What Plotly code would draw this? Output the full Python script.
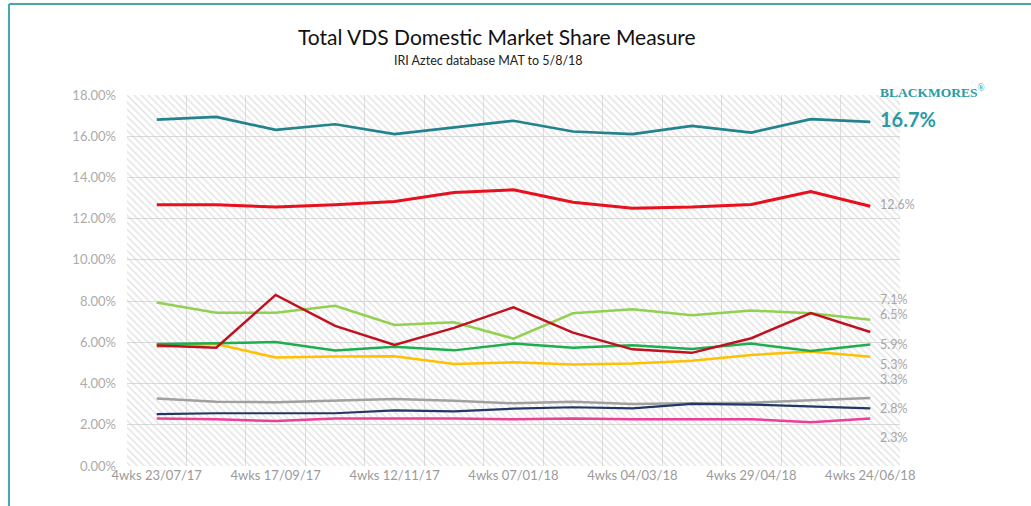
import plotly.graph_objects as go

# Four-weekly reporting periods (MAT to 5/8/18)
periods = [
    "4wks 23/07/17", "4wks 20/08/17", "4wks 17/09/17", "4wks 15/10/17",
    "4wks 12/11/17", "4wks 10/12/17", "4wks 07/01/18", "4wks 04/02/18",
    "4wks 04/03/18", "4wks 01/04/18", "4wks 29/04/18", "4wks 27/05/18",
    "4wks 24/06/18",
]

# Market share (%) by brand
blackmores = [16.81, 16.94, 16.31, 16.58, 16.10, 16.44, 16.75, 16.23, 16.10, 16.50, 16.18, 16.83, 16.7]
brand_red = [12.67, 12.67, 12.56, 12.67, 12.83, 13.27, 13.40, 12.80, 12.51, 12.56, 12.69, 13.32, 12.6]
brand_lightgreen = [7.93, 7.44, 7.44, 7.77, 6.84, 6.97, 6.18, 7.41, 7.60, 7.31, 7.54, 7.41, 7.1]
brand_darkred = [5.85, 5.74, 8.30, 6.80, 5.87, 6.70, 7.70, 6.47, 5.66, 5.49, 6.20, 7.42, 6.5]
brand_green = [5.92, 5.95, 6.02, 5.60, 5.79, 5.61, 5.94, 5.74, 5.86, 5.68, 5.94, 5.58, 5.9]
brand_yellow = [5.79, 5.92, 5.26, 5.31, 5.32, 4.95, 5.03, 4.92, 4.97, 5.11, 5.39, 5.55, 5.3]
brand_grey = [3.28, 3.12, 3.09, 3.17, 3.25, 3.16, 3.04, 3.12, 3.01, 3.04, 3.07, 3.19, 3.3]
brand_navy = [2.52, 2.56, 2.56, 2.56, 2.70, 2.65, 2.78, 2.85, 2.80, 3.01, 2.98, 2.88, 2.8]
brand_pink = [2.31, 2.27, 2.18, 2.30, 2.31, 2.31, 2.27, 2.31, 2.27, 2.27, 2.27, 2.12, 2.3]

y_ticks = [0, 2, 4, 6, 8, 10, 12, 14, 16, 18]

W, H = 1031, 506
ML, MR, MT, MB = 127, 131, 95, 40
PW, PH = W - ML - MR, H - MT - MB

def xp(px):
    return (px - ML) / PW

def yp(py):
    return (H - MB - py) / PH

x = list(range(len(periods)))
x_lo, x_hi = -0.5, len(periods) - 0.5

series = [
    ("Brand G", brand_grey, "#a0a0a0", 2.5, -18),
    ("Brand I", brand_pink, "#ec3f99", 2.5, 19),
    ("Brand H", brand_navy, "#1f3864", 2.2, 0),
    ("Brand F", brand_yellow, "#ffc000", 2.5, 8),
    ("Brand E", brand_green, "#1eae50", 2.5, 0),
    ("Brand C", brand_lightgreen, "#92d050", 2.5, -20),
    ("Brand D", brand_darkred, "#c0111f", 2.5, -18),
    ("Brand B", brand_red, "#e8101e", 3.0, -2),
]

fig = go.Figure()

# hatched plot background
fig.add_trace(go.Scatter(
    x=[x_lo, x_hi, x_hi, x_lo, x_lo], y=[0, 0, 18, 18, 0],
    mode="lines", line=dict(width=0), fill="toself",
    fillcolor="rgba(0,0,0,0)",
    fillpattern=dict(shape="\\", size=5, solidity=0.3,
                     fgcolor="#c9c9c9", bgcolor="rgba(0,0,0,0)"),
    hoverinfo="skip", showlegend=False,
))

annotations = []
for name, vals, color, width, shift in series:
    fig.add_trace(go.Scatter(x=x, y=vals, name=name, mode="lines",
                             line=dict(color=color, width=width), showlegend=False))
    annotations.append(dict(
        x=x[-1], y=vals[-1], xref="x", yref="y", text=f"{vals[-1]:.1f}%",
        showarrow=False, xanchor="left", yanchor="middle", xshift=8, yshift=-shift,
        font=dict(family="Lato", size=12.5, color="#a6a6a6"),
    ))

fig.add_trace(go.Scatter(x=x, y=blackmores, name="Blackmores", mode="lines",
                         line=dict(color="#23838d", width=2.7), showlegend=False))

annotations += [
    dict(x=x[-1], y=blackmores[-1], xref="x", yref="y",
         text=f"<b>{blackmores[-1]:.1f}%</b>", showarrow=False,
         xanchor="left", yanchor="middle", xshift=8, yshift=3,
         font=dict(family="Lato", size=20, color="#2a9aa4")),
    dict(x=x[-1], y=blackmores[-1], xref="x", yref="y",
         text="<b>BLACKMORES</b><sup>®</sup>", showarrow=False,
         xanchor="left", yanchor="middle", xshift=8, yshift=30,
         font=dict(family="Liberation Serif", size=13.5, color="#2a9aa4")),
    dict(x=xp(497), y=yp(37), xref="paper", yref="paper",
         text="Total VDS Domestic Market Share Measure", showarrow=False,
         xanchor="center", yanchor="middle",
         font=dict(family="Lato", size=21, color="#111111")),
    dict(x=xp(488), y=yp(61), xref="paper", yref="paper",
         text="IRI Aztec database MAT to 5/8/18", showarrow=False,
         xanchor="center", yanchor="middle",
         font=dict(family="Lato", size=12.5, color="#222222")),
]

shapes = [
    dict(type="line", xref="paper", yref="paper", x0=xp(9), x1=xp(W), y0=yp(4), y1=yp(4),
         line=dict(color="#4aa6ae", width=2)),
    dict(type="line", xref="paper", yref="paper", x0=xp(9), x1=xp(9), y0=yp(4), y1=yp(H),
         line=dict(color="#4aa6ae", width=2)),
]

fig.update_layout(
    width=W, height=H,
    margin=dict(l=ML, r=MR, t=MT, b=MB),
    paper_bgcolor="white", plot_bgcolor="white",
    showlegend=False,
    annotations=annotations, shapes=shapes,
    xaxis=dict(
        range=[x_lo, x_hi],
        tickmode="array", tickvals=x[::2], ticktext=periods[::2],
        showgrid=False, zeroline=False, showline=False, ticks="",
        tickfont=dict(family="Lato", size=13, color="#9a9a9a"),
        minor=dict(tickmode="linear", tick0=x_lo, dtick=1, showgrid=True,
                   gridcolor="#dedede", gridwidth=1, ticks=""),
    ),
    yaxis=dict(
        range=[0, 18], tickmode="array", tickvals=y_ticks,
        ticktext=[f"{v:.2f}%" for v in y_ticks],
        showgrid=True, gridcolor="#dadada", gridwidth=1,
        zeroline=False, showline=False, ticks="", ticklabelstandoff=10,
        tickfont=dict(family="Lato", size=13, color="#ababab"),
    ),
)

fig.write_html("out.html")
